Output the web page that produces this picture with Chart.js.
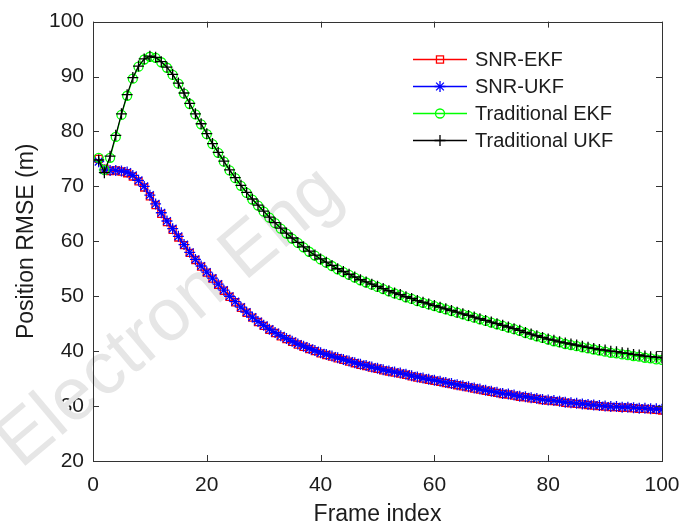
<!DOCTYPE html>
<html>
<head>
<meta charset="utf-8">
<script src="https://cdn.jsdelivr.net/npm/chart.js@4.4.0/dist/chart.umd.min.js"></script>
<style>
  html, body { margin: 0; padding: 0; background: #fff; }
  canvas { display: block; }
</style>
</head>
<body>
<canvas id="rmse" width="696" height="528"></canvas>
<script>
// frame indices (x axis)
const frames = [
  1, 2, 3, 4, 5, 6, 7, 8, 9, 10, 11, 12, 13, 14, 15, 16, 17, 18, 19, 20,
  21, 22, 23, 24, 25, 26, 27, 28, 29, 30, 31, 32, 33, 34, 35, 36, 37, 38, 39, 40,
  41, 42, 43, 44, 45, 46, 47, 48, 49, 50, 51, 52, 53, 54, 55, 56, 57, 58, 59, 60,
  61, 62, 63, 64, 65, 66, 67, 68, 69, 70, 71, 72, 73, 74, 75, 76, 77, 78, 79, 80,
  81, 82, 83, 84, 85, 86, 87, 88, 89, 90, 91, 92, 93, 94, 95, 96, 97, 98, 99, 100
];

// position RMSE (m)
const snrEkf = [
  75.0, 73.2, 72.8, 72.9, 72.7, 72.4, 71.8, 70.9, 69.8, 68.2,
  66.6, 65.0, 63.5, 62.1, 60.7, 59.3, 57.9, 56.6, 55.4, 54.3,
  53.2, 52.1, 51.0, 49.9, 48.9, 47.9, 47.0, 46.1, 45.3, 44.6,
  43.9, 43.3, 42.7, 42.2, 41.7, 41.2, 40.8, 40.4, 40.0, 39.6,
  39.3, 39.0, 38.7, 38.4, 38.1, 37.8, 37.5, 37.3, 37.0, 36.8,
  36.5, 36.3, 36.1, 35.9, 35.7, 35.4, 35.2, 35.0, 34.8, 34.6,
  34.4, 34.2, 34.0, 33.8, 33.6, 33.4, 33.2, 33.0, 32.8, 32.6,
  32.4, 32.2, 32.1, 31.9, 31.7, 31.6, 31.4, 31.3, 31.1, 31.0,
  30.9, 30.8, 30.6, 30.5, 30.4, 30.3, 30.2, 30.1, 30.0, 29.9,
  29.8, 29.8, 29.7, 29.7, 29.6, 29.5, 29.5, 29.4, 29.3, 29.2
];
const snrUkf = [
  74.5, 73.0, 72.9, 72.9, 72.8, 72.6, 72.0, 71.1, 70.0, 68.4,
  66.8, 65.2, 63.7, 62.3, 60.9, 59.4, 58.0, 56.7, 55.5, 54.4,
  53.3, 52.2, 51.1, 50.0, 49.0, 48.0, 47.1, 46.2, 45.4, 44.7,
  44.0, 43.4, 42.8, 42.3, 41.8, 41.3, 40.9, 40.5, 40.1, 39.7,
  39.4, 39.1, 38.8, 38.5, 38.2, 37.9, 37.6, 37.4, 37.1, 36.9,
  36.6, 36.4, 36.2, 36.0, 35.8, 35.5, 35.3, 35.1, 34.9, 34.7,
  34.5, 34.3, 34.1, 33.9, 33.7, 33.5, 33.3, 33.1, 32.9, 32.7,
  32.5, 32.3, 32.2, 32.0, 31.8, 31.7, 31.5, 31.4, 31.2, 31.1,
  31.0, 30.9, 30.7, 30.6, 30.5, 30.4, 30.3, 30.2, 30.1, 30.0,
  29.9, 29.9, 29.8, 29.8, 29.7, 29.6, 29.6, 29.5, 29.5, 29.4
];
const tradEkf = [
  75.2, 73.0, 75.2, 79.0, 83.0, 86.5, 89.6, 91.8, 93.1, 93.6,
  93.4, 92.6, 91.6, 90.3, 88.7, 86.9, 85.0, 83.1, 81.3, 79.5,
  77.7, 76.1, 74.5, 72.9, 71.5, 70.1, 68.8, 67.6, 66.5, 65.4,
  64.3, 63.3, 62.3, 61.4, 60.5, 59.7, 58.9, 58.1, 57.4, 56.7,
  56.1, 55.5, 54.9, 54.4, 53.9, 53.4, 52.9, 52.5, 52.1, 51.7,
  51.3, 50.9, 50.5, 50.2, 49.8, 49.5, 49.1, 48.8, 48.5, 48.2,
  47.9, 47.6, 47.3, 47.0, 46.7, 46.4, 46.1, 45.8, 45.5, 45.2,
  44.9, 44.6, 44.3, 44.0, 43.7, 43.3, 43.0, 42.7, 42.4, 42.1,
  41.8, 41.6, 41.3, 41.1, 40.9, 40.7, 40.5, 40.3, 40.1, 39.9,
  39.7, 39.6, 39.4, 39.3, 39.1, 39.0, 38.8, 38.7, 38.5, 38.4
];
const tradUkf = [
  74.8, 72.5, 75.5, 79.3, 83.2, 86.7, 89.8, 91.9, 93.2, 93.7,
  93.5, 92.7, 91.7, 90.4, 88.8, 87.0, 85.1, 83.2, 81.4, 79.6,
  77.8, 76.2, 74.6, 73.0, 71.6, 70.2, 68.9, 67.7, 66.6, 65.5,
  64.4, 63.4, 62.4, 61.5, 60.6, 59.8, 59.0, 58.2, 57.5, 56.8,
  56.2, 55.6, 55.0, 54.5, 54.0, 53.5, 53.0, 52.6, 52.2, 51.8,
  51.4, 51.0, 50.6, 50.3, 49.9, 49.6, 49.2, 48.9, 48.6, 48.3,
  48.0, 47.7, 47.4, 47.1, 46.8, 46.5, 46.2, 45.9, 45.6, 45.3,
  45.0, 44.7, 44.4, 44.1, 43.8, 43.4, 43.1, 42.8, 42.5, 42.2,
  42.0, 41.7, 41.5, 41.3, 41.1, 40.9, 40.7, 40.5, 40.3, 40.2,
  40.0, 39.9, 39.7, 39.6, 39.4, 39.3, 39.1, 39.0, 38.9, 38.8
];

const seriesNames = ['SNR-EKF', 'SNR-UKF', 'Traditional EKF', 'Traditional UKF'];
const xTicks = [0, 20, 40, 60, 80, 100];
const yTicks = [20, 30, 40, 50, 60, 70, 80, 90, 100];

const FONT = 'Arial, "Liberation Sans", sans-serif';
const TEXT = '#1c1c1c';

function toPoints(ys) {
  return frames.map((f, i) => ({ x: f, y: ys[i] }));
}

function makeSet(label, ys, color, style, radius, order) {
  return {
    label: label,
    data: toPoints(ys),
    borderColor: color,
    borderWidth: 1.2,
    pointStyle: style,
    pointRadius: radius,
    pointBorderColor: color,
    pointBackgroundColor: 'rgba(0,0,0,0)',
    pointBorderWidth: 1.3,
    tension: 0,
    order: order
  };
}

// faint journal watermark behind the plot
const watermark = {
  id: 'watermark',
  beforeDatasetsDraw(chart) {
    const ctx = chart.ctx;
    ctx.save();
    ctx.translate(170, 318);
    ctx.rotate(-40 * Math.PI / 180);
    ctx.font = '74px ' + FONT;
    ctx.fillStyle = '#e6e6e6';
    ctx.textAlign = 'center';
    ctx.textBaseline = 'middle';
    ctx.fillText('Electron Eng', 0, 0);
    ctx.restore();
  }
};

// matlab style box with inward ticks on all four sides
const axesBox = {
  id: 'axesBox',
  afterDraw(chart) {
    const { ctx, chartArea: a } = chart;
    const xs = chart.scales.x, ys = chart.scales.y;
    const len = 6;
    ctx.save();
    ctx.strokeStyle = '#333';
    ctx.lineWidth = 1;
    ctx.beginPath();
    xTicks.forEach(v => {
      const px = Math.round(xs.getPixelForValue(v)) + 0.5;
      ctx.moveTo(px, a.bottom); ctx.lineTo(px, a.bottom - len);
      ctx.moveTo(px, a.top); ctx.lineTo(px, a.top + len);
    });
    yTicks.forEach(v => {
      const py = Math.round(ys.getPixelForValue(v)) + 0.5;
      ctx.moveTo(a.left, py); ctx.lineTo(a.left + len, py);
      ctx.moveTo(a.right, py); ctx.lineTo(a.right - len, py);
    });
    ctx.stroke();
    ctx.strokeRect(Math.round(a.left) + 0.5, Math.round(a.top) + 0.5,
      Math.round(a.right - a.left), Math.round(a.bottom - a.top));
    ctx.restore();
  }
};

// legend with line + marker samples, no frame
const lineLegend = {
  id: 'lineLegend',
  afterDraw(chart) {
    const ctx = chart.ctx;
    const x0 = 413, x1 = 467, tx = 475;
    const rows = [59, 86, 113, 140];
    ctx.save();
    chart.data.datasets.forEach((ds, i) => {
      const y = rows[i];
      ctx.strokeStyle = ds.borderColor;
      ctx.lineWidth = 1.3;
      ctx.beginPath();
      ctx.moveTo(x0, y + 0.5);
      ctx.lineTo(x1, y + 0.5);
      ctx.stroke();
      ctx.fillStyle = 'rgba(0,0,0,0)';
      Chart.helpers.drawPoint(ctx, {
        pointStyle: ds.pointStyle,
        radius: ds.pointRadius,
        rotation: 0,
        borderWidth: 1.3
      }, (x0 + x1) / 2, y + 0.5);
      ctx.fillStyle = TEXT;
      ctx.font = '20px ' + FONT;
      ctx.textAlign = 'left';
      ctx.textBaseline = 'middle';
      ctx.fillText(ds.label, tx, y + 1);
    });
    ctx.restore();
  }
};

const ctx = document.getElementById('rmse').getContext('2d');
new Chart(ctx, {
  type: 'line',
  data: {
    datasets: [
      makeSet(seriesNames[0], snrEkf, '#ff0000', 'rect', 5, 4),
      makeSet(seriesNames[1], snrUkf, '#0000ff', 'star', 5.5, 3),
      makeSet(seriesNames[2], tradEkf, '#00ff00', 'circle', 4.5, 2),
      makeSet(seriesNames[3], tradUkf, '#000000', 'cross', 5.5, 1)
    ]
  },
  options: {
    responsive: false,
    devicePixelRatio: 1,
    animation: false,
    layout: { padding: { top: 17, right: 34, left: 0, bottom: 0 } },
    plugins: {
      legend: { display: false },
      tooltip: { enabled: false }
    },
    scales: {
      x: {
        type: 'linear',
        min: 0,
        max: 100,
        afterBuildTicks: s => { s.ticks = xTicks.map(v => ({ value: v })); },
        afterFit: s => { s.height = 67; },
        grid: { display: false, drawTicks: false },
        border: { display: false },
        ticks: { color: TEXT, font: { family: FONT, size: 21 }, padding: 12, maxRotation: 0 },
        title: {
          display: true,
          text: 'Frame index',
          color: TEXT,
          font: { family: FONT, size: 23 },
          padding: { top: 0, bottom: 0 }
        }
      },
      y: {
        min: 20,
        max: 100,
        afterBuildTicks: s => { s.ticks = yTicks.map(v => ({ value: v })); },
        afterFit: s => { s.width = 93; },
        grid: { display: false, drawTicks: false },
        border: { display: false },
        ticks: { color: TEXT, font: { family: FONT, size: 21 }, padding: 9 },
        title: {
          display: true,
          text: 'Position RMSE (m)',
          color: TEXT,
          font: { family: FONT, size: 23 },
          padding: { top: 13, bottom: 0 }
        }
      }
    }
  },
  plugins: [watermark, axesBox, lineLegend]
});
</script>
</body>
</html>
